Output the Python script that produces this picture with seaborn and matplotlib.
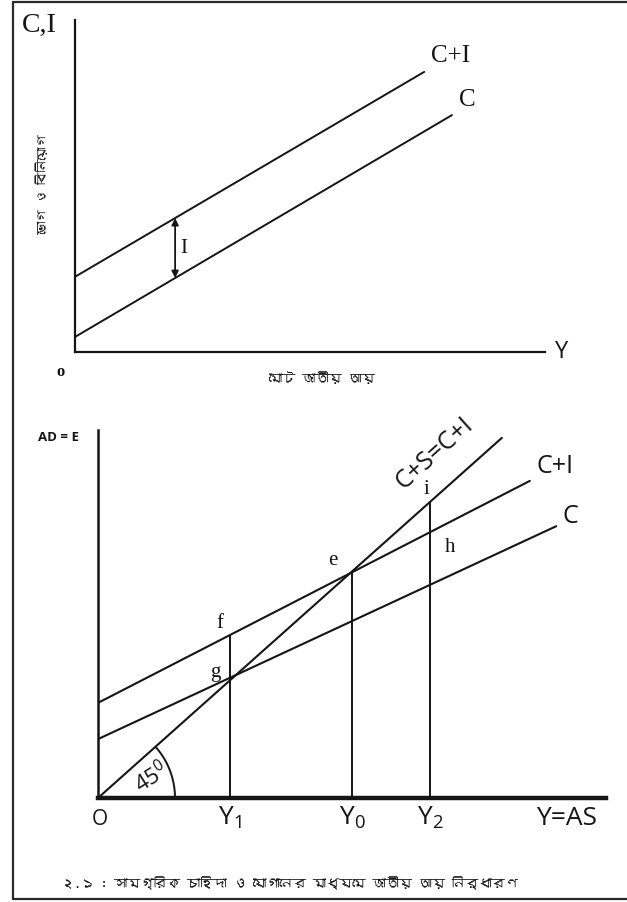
import numpy as np
import pandas as pd
import seaborn as sns
import matplotlib.pyplot as plt
from matplotlib import font_manager
from matplotlib.ft2font import FT2Font
from matplotlib.lines import Line2D

# ---------------------------------------------------------------
# Upper panel: consumption (C) and aggregate spending (C+I)
# ---------------------------------------------------------------
top_c_x = [0.0, 80.2]
top_c_y = [3.2, 50.4]
top_ci_x = [0.0, 74.3]
top_ci_y = [16.0, 59.6]
invest_gap_x = 21.3          # where the investment gap arrow is drawn

# ---------------------------------------------------------------
# Lower panel: Keynesian cross
# ---------------------------------------------------------------
diag_x = [0.0, 79.5]         # 45-degree line  C+S = C+I
diag_y = [0.0, 79.5]
bot_ci_x = [0.0, 85.0]
bot_ci_y = [21.0, 70.0]
bot_c_x = [0.0, 90.2]
bot_c_y = [13.0, 60.0]
income_levels = [26.0, 50.0, 65.4]
income_labels = [r"$\mathregular{Y_1}$", r"$\mathregular{Y_0}$", r"$\mathregular{Y_2}$"]

INK = "#151515"


def font_with(ch, fallback):
    """Return the name of an installed font that has a glyph for ch."""
    for f in font_manager.fontManager.ttflist:
        try:
            if ord(ch) in FT2Font(f.fname).get_charmap():
                return f.name
        except Exception:
            continue
    return fallback


sns.set_theme(style="white")
SERIF = ["Liberation Serif", "DejaVu Serif"]
SANS = ["Open Sans", "DejaVu Sans"]
bn_font = font_with("\u099c", "Noto Sans")
BENGALI = [bn_font, "Noto Sans", "DejaVu Sans"]
plt.rcParams["font.family"] = SANS
plt.rcParams["mathtext.fontset"] = "custom"
plt.rcParams["mathtext.rm"] = "Open Sans"

W, H = 627, 902
fig = plt.figure(figsize=(W / 100, H / 100), dpi=100)
fig.patch.set_facecolor("white")

# page frame: left, top and bottom rules
frame = dict(transform=fig.transFigure, color="#2a2a2a", linewidth=1.6)
fig.add_artist(Line2D([13 / W, 13 / W], [1 - 2 / H, 1 - 899 / H], **frame))
fig.add_artist(Line2D([13 / W, 1.0], [1 - 2 / H, 1 - 2 / H], **frame))
fig.add_artist(Line2D([13 / W, 1.0], [1 - 899 / H, 1 - 899 / H], **frame))

# ------------------------- upper panel -------------------------
ax1 = fig.add_axes([75 / W, (H - 352) / H, 470 / W, 332 / H])
ax1.set_xlim(0, 100)
ax1.set_ylim(0, 332 / 4.7)
df_top = pd.concat([
    pd.DataFrame({"Y": top_ci_x, "E": top_ci_y, "line": "C+I"}),
    pd.DataFrame({"Y": top_c_x, "E": top_c_y, "line": "C"}),
])
sns.lineplot(data=df_top, x="Y", y="E", units="line", estimator=None,
             color=INK, linewidth=1.4, ax=ax1)

c_at = np.interp(invest_gap_x, top_c_x, top_c_y)
ci_at = np.interp(invest_gap_x, top_ci_x, top_ci_y)
ax1.annotate("", xy=(invest_gap_x, ci_at), xytext=(invest_gap_x, c_at),
             arrowprops=dict(arrowstyle="<|-|>", color=INK, lw=1.3,
                             mutation_scale=10, shrinkA=0, shrinkB=0))
ax1.text(invest_gap_x + 1.1, (c_at + ci_at) / 2, "I", family=SERIF,
         fontsize=15, color=INK, ha="left", va="center")
ax1.text(top_ci_x[-1] + 1.5, top_ci_y[-1] + 1.0, "C+I", family=SERIF,
         fontsize=18, color=INK, ha="left", va="bottom")
ax1.text(top_c_x[-1] + 1.5, top_c_y[-1] + 0.8, "C", family=SERIF,
         fontsize=18, color=INK, ha="left", va="bottom")
ax1.text(-7.6, 69.5, "C,I", family=SERIF, fontsize=20, color=INK,
         ha="center", va="center")
ax1.text(103.5, 0.0, "Y", family=SANS, fontsize=17, color=INK,
         ha="center", va="center")
ax1.text(-3.0, -4.3, "o", family=SERIF, fontsize=12, color=INK,
         ha="center", va="center", fontweight="bold")
ax1.text(52.5, -5.6, "মোট জাতীয় আয়", family=BENGALI, fontsize=9.5,
         color=INK, ha="center", va="center")
ax1.text(-7.0, 35.7, "ভোগ ও বিনিয়োগ", family=BENGALI, fontsize=9,
         color=INK, ha="center", va="center", rotation=90)

for side in ("top", "right"):
    ax1.spines[side].set_visible(False)
for side in ("left", "bottom"):
    ax1.spines[side].set_color(INK)
    ax1.spines[side].set_linewidth(1.6)
ax1.set_xticks([])
ax1.set_yticks([])
ax1.set_xlabel("")
ax1.set_ylabel("")

# ------------------------- lower panel -------------------------
ax2 = fig.add_axes([98 / W, (H - 798) / H, 508 / W, 368 / H])
ax2.set_xlim(0, 100)
ax2.set_ylim(0, 368 / 4.53)
df_bot = pd.concat([
    pd.DataFrame({"Y": diag_x, "E": diag_y, "line": "C+S"}),
    pd.DataFrame({"Y": bot_ci_x, "E": bot_ci_y, "line": "C+I"}),
    pd.DataFrame({"Y": bot_c_x, "E": bot_c_y, "line": "C"}),
])
sns.lineplot(data=df_bot, x="Y", y="E", units="line", estimator=None,
             color=INK, linewidth=1.5, ax=ax2)

# drop lines from f, e and i down to the income axis
tops = [np.interp(income_levels[0], bot_ci_x, bot_ci_y),
        np.interp(income_levels[1], diag_x, diag_y),
        np.interp(income_levels[2], diag_x, diag_y)]
ax2.vlines(income_levels, 0, tops, color=INK, linewidth=1.4)

# 45 degree arc drawn as a circle in screen space
sx = 508 / 100.0
sy = 4.53
ang = np.arctan2(sy, sx)
t = np.linspace(0, ang, 60)
r_px = 77
ax2.plot(r_px * np.cos(t) / sx, r_px * np.sin(t) / sy, color=INK, lw=1.4)
ax2.text(10.5, 4.4, r"45$^{\mathregular{0}}$", fontsize=16, color=INK,
         rotation=32, ha="center", va="center")

point_lbl = dict(family=SERIF, fontsize=15, color=INK, ha="center", va="center")
ax2.text(24.0, 38.5, "f", **point_lbl)
ax2.text(23.0, 27.6, "g", **point_lbl)
ax2.text(46.2, 52.4, "e", **point_lbl)
ax2.text(64.6, 68.0, "i", **point_lbl)
ax2.text(69.3, 55.2, "h", **point_lbl)

ax2.text(bot_ci_x[-1] + 1.3, bot_ci_y[-1] + 0.4, "C+I", fontsize=18,
         color=INK, ha="left", va="bottom")
ax2.text(bot_c_x[-1] + 1.3, bot_c_y[-1] - 0.6, "C", fontsize=18,
         color=INK, ha="left", va="bottom")
ax2.text(66.3, 76.0, "C+S=C+I", fontsize=18, color=INK, rotation=42,
         ha="center", va="center", rotation_mode="anchor")
ax2.text(-7.8, 79.5, "AD = E", fontsize=9.5, color=INK, ha="center",
         va="center", fontweight="bold")
ax2.text(0.4, -4.8, "O", fontsize=15, color=INK, ha="center", va="center")
ax2.text(92.2, -4.6, "Y=AS", fontsize=19, color=INK, ha="center", va="center")

ax2.set_xticks(income_levels)
ax2.set_xticklabels(income_labels, fontsize=19, color=INK)
ax2.tick_params(axis="x", length=0, pad=5)
ax2.set_yticks([])
ax2.set_xlabel("")
ax2.set_ylabel("")
for side in ("top", "right"):
    ax2.spines[side].set_visible(False)
ax2.spines["left"].set_color(INK)
ax2.spines["left"].set_linewidth(1.8)
ax2.spines["bottom"].set_color(INK)
ax2.spines["bottom"].set_linewidth(3.2)

# caption
fig.text(290 / W, 1 - 883 / H,
         "২.১ : সামগ্রিক চাহিদা ও যোগানের মাধ্যমে জাতীয় আয় নির্ধারণ",
         family=BENGALI, fontsize=9.5, style="italic", color=INK,
         ha="center", va="center")

fig.savefig("out.png", dpi=100, facecolor="white")
